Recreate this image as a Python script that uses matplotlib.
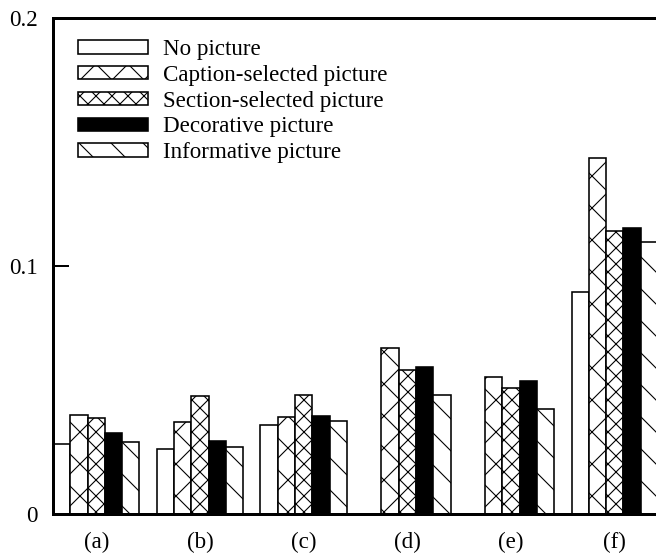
import matplotlib
matplotlib.use("Agg")
import matplotlib.pyplot as plt
import numpy as np

categories = ["(a)", "(b)", "(c)", "(d)", "(e)", "(f)"]
series_names = ["No picture", "Caption-selected picture", "Section-selected picture",
                "Decorative picture", "Informative picture"]
no_picture = [0.0285, 0.0262, 0.0359, 0.0, 0.0, 0.0898]
caption_selected = [0.0400, 0.0374, 0.0392, 0.0671, 0.0554, 0.1437]
section_selected = [0.0388, 0.0479, 0.0483, 0.0581, 0.0508, 0.1144]
decorative = [0.0328, 0.0294, 0.0395, 0.0593, 0.0537, 0.1156]
informative = [0.0293, 0.0273, 0.0376, 0.0483, 0.0425, 0.1096]
yticks = [0, 0.1, 0.2]
ytick_labels = ["0", "0.1", "0.2"]

DPI = 192
PT = 72.0 / DPI  # points per pixel

plt.rcParams["font.family"] = ["Liberation Serif", "DejaVu Serif"]
plt.rcParams["hatch.linewidth"] = 1.1 * PT
plt.rcParams["hatch.color"] = "black"

fig = plt.figure(figsize=(656 / DPI, 554 / DPI), dpi=DPI)
left_px, right_px = 53, 658
top_px, bot_px = 18.3, 514.3
ax = fig.add_axes([left_px / 656, (554 - bot_px) / 554,
                   (right_px - left_px) / 656, (bot_px - top_px) / 554])

series = [no_picture, caption_selected, section_selected, decorative, informative]
faces = ["white", "white", "white", "black", "white"]
hatches = [None, "xx", "xxxx", None, "\\\\"]
w = 1 / 6
x = np.arange(len(categories))
fs = 23 * PT
for j, (vals, fc, h, name) in enumerate(zip(series, faces, hatches, series_names)):
    ax.bar(x + (j - 2) * w, vals, width=w, facecolor=fc, edgecolor="black",
           linewidth=1.6 * PT, hatch=h, label=name, zorder=2)

ax.set_xlim(-2.5 * w, len(categories) - 1 + 2.5 * w)
ax.set_ylim(0, 0.2)
ax.set_yticks(yticks)
ax.set_yticklabels(ytick_labels, fontsize=fs)
ax.set_xticks(x)
ax.set_xticklabels(categories, fontsize=fs)
ax.tick_params(axis="y", direction="in", length=16 * PT, width=2 * PT, pad=15 * PT)
ax.tick_params(axis="x", length=0, pad=18 * PT)
for s in ax.spines.values():
    s.set_linewidth(3 * PT)
    s.set_zorder(3)

leg = ax.legend(loc="upper left", bbox_to_anchor=(78 / 656, 1 - 39 / 554),
                bbox_transform=fig.transFigure, frameon=False, fontsize=fs,
                handlelength=3.05, handleheight=0.52, handletextpad=0.65,
                labelspacing=0.21, borderpad=0, borderaxespad=0)

fig.savefig("out.png", dpi=DPI)
